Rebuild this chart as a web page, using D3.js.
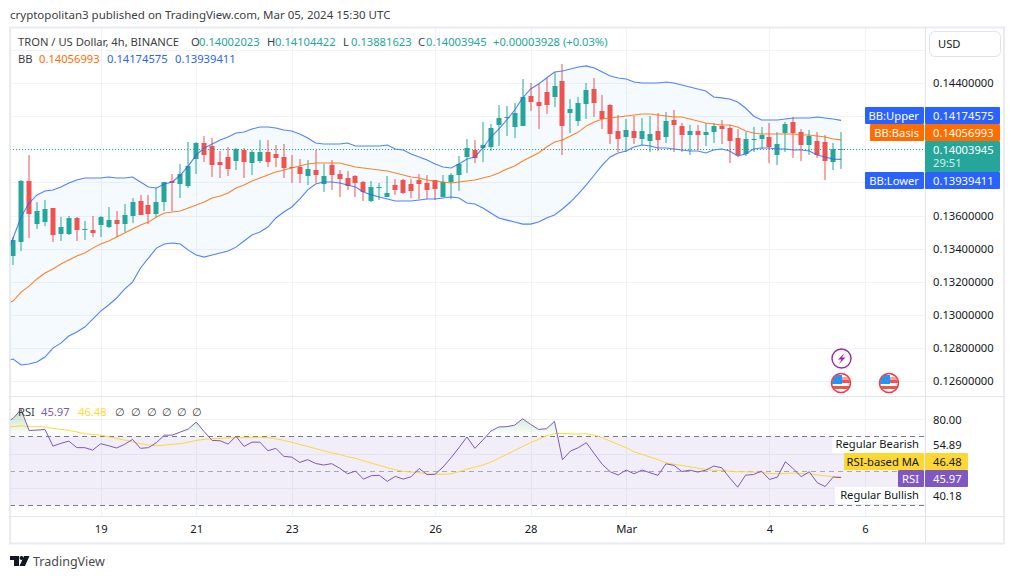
<!DOCTYPE html>
<html><head><meta charset="utf-8">
<script src="https://cdn.jsdelivr.net/npm/d3@7"></script>
<style>
html,body{margin:0;padding:0;background:#fff}
svg{display:block}
text{font-family:"Noto Sans",sans-serif;font-size:11.2px;fill:#131722}
</style></head><body>
<svg id="c" width="1015" height="579"></svg>
<script>
const opens=[0.13356,0.13441,0.13809,0.13549,0.13561,0.13646,0.13489,0.13489,0.13586,0.13513,0.13513,0.13543,0.13531,0.13573,0.13549,0.13598,0.13688,0.13664,0.13610,0.13682,0.13809,0.13791,0.13779,0.13941,0.14038,0.14020,0.13923,0.13954,0.13929,0.13996,0.13917,0.13929,0.13984,0.13972,0.13954,0.13893,0.13893,0.13839,0.13875,0.13791,0.13905,0.13851,0.13827,0.13839,0.13803,0.13688,0.13767,0.13712,0.13785,0.13815,0.13791,0.13815,0.13797,0.13815,0.13712,0.13803,0.13845,0.13954,0.13996,0.14008,0.14014,0.14147,0.14189,0.14135,0.14141,0.14322,0.14285,0.14346,0.14316,0.14412,0.14219,0.14171,0.14273,0.14364,0.14231,0.14267,0.14110,0.14074,0.14110,0.14062,0.14050,0.14110,0.14074,0.14177,0.14141,0.14086,0.14110,0.14086,0.14104,0.14141,0.14129,0.14068,0.13972,0.14056,0.14062,0.14074,0.13966,0.14098,0.14165,0.14104,0.14026,0.14050,0.14044,0.13923,0.14002023];
const highs=[0.13471,0.13815,0.13966,0.13682,0.13694,0.13646,0.13592,0.13598,0.13592,0.13567,0.13598,0.13598,0.13652,0.13628,0.13670,0.13706,0.13725,0.13725,0.13767,0.13803,0.13851,0.13911,0.14044,0.14044,0.14080,0.14068,0.13990,0.14014,0.14008,0.14008,0.13996,0.14056,0.14056,0.14026,0.14032,0.13966,0.13941,0.13935,0.13996,0.13911,0.13935,0.13875,0.13869,0.13845,0.13809,0.13809,0.13797,0.13839,0.13821,0.13821,0.13821,0.13851,0.13845,0.13815,0.13845,0.13857,0.13960,0.14062,0.14056,0.14165,0.14153,0.14267,0.14261,0.14279,0.14424,0.14400,0.14394,0.14430,0.14466,0.14515,0.14303,0.14316,0.14400,0.14430,0.14328,0.14273,0.14207,0.14183,0.14201,0.14189,0.14201,0.14219,0.14225,0.14237,0.14159,0.14147,0.14147,0.14159,0.14159,0.14177,0.14147,0.14122,0.14104,0.14135,0.14135,0.14159,0.14104,0.14165,0.14195,0.14122,0.14116,0.14104,0.14086,0.14038,0.14104422];
const lows=[0.13302,0.13386,0.13465,0.13519,0.13537,0.13441,0.13447,0.13483,0.13447,0.13453,0.13471,0.13471,0.13525,0.13471,0.13501,0.13555,0.13604,0.13549,0.13592,0.13628,0.13628,0.13706,0.13767,0.13851,0.13923,0.13833,0.13827,0.13839,0.13875,0.13827,0.13845,0.13917,0.13893,0.13893,0.13827,0.13797,0.13797,0.13785,0.13797,0.13743,0.13755,0.13712,0.13755,0.13712,0.13688,0.13682,0.13694,0.13712,0.13725,0.13731,0.13706,0.13700,0.13700,0.13694,0.13712,0.13700,0.13749,0.13857,0.13917,0.13923,0.13990,0.14020,0.14080,0.14068,0.14141,0.14231,0.14122,0.14213,0.14255,0.13966,0.14098,0.14141,0.14183,0.14195,0.14122,0.14032,0.13984,0.13984,0.14032,0.14026,0.13984,0.13990,0.14038,0.13984,0.13984,0.13966,0.13996,0.14020,0.14038,0.14032,0.13917,0.13954,0.13960,0.13984,0.14002,0.13917,0.13905,0.13984,0.13948,0.13929,0.13966,0.13948,0.13815,0.13875,0.13881623];
const closes=[0.13453,0.13809,0.13610,0.13628,0.13640,0.13483,0.13531,0.13586,0.13513,0.13519,0.13495,0.13592,0.13573,0.13549,0.13604,0.13682,0.13604,0.13610,0.13682,0.13803,0.13797,0.13851,0.13899,0.14038,0.13966,0.13905,0.13905,0.13881,0.14002,0.13923,0.13984,0.13984,0.13923,0.13948,0.13887,0.13887,0.13851,0.13881,0.13845,0.13839,0.13845,0.13821,0.13779,0.13797,0.13743,0.13773,0.13773,0.13737,0.13755,0.13737,0.13749,0.13791,0.13755,0.13761,0.13803,0.13845,0.13911,0.14008,0.13948,0.14026,0.14129,0.14189,0.14195,0.14219,0.14316,0.14285,0.14261,0.14267,0.14382,0.14141,0.14243,0.14279,0.14358,0.14279,0.14183,0.14092,0.14062,0.14116,0.14068,0.14110,0.14092,0.14056,0.14171,0.14147,0.14086,0.14110,0.14086,0.14104,0.14141,0.14122,0.14050,0.13966,0.14062,0.14062,0.14086,0.14014,0.14032,0.14153,0.14098,0.14026,0.14080,0.13966,0.13929,0.14002,0.14003945];
// indicator series start one 4h bar before the first visible candle
const bbUpper=[0.13350,0.13465,0.13592,0.13676,0.13725,0.13749,0.13755,0.13773,0.13797,0.13815,0.13827,0.13827,0.13827,0.13833,0.13827,0.13827,0.13833,0.13803,0.13773,0.13767,0.13791,0.13803,0.13845,0.13899,0.13966,0.14008,0.14032,0.14056,0.14074,0.14098,0.14104,0.14122,0.14135,0.14135,0.14129,0.14116,0.14110,0.14092,0.14068,0.14038,0.14032,0.14032,0.14032,0.14038,0.14020,0.14020,0.14020,0.14020,0.14026,0.14002,0.13996,0.13972,0.13954,0.13935,0.13911,0.13893,0.13887,0.13911,0.13941,0.13954,0.14008,0.14074,0.14122,0.14177,0.14237,0.14310,0.14364,0.14394,0.14430,0.14466,0.14472,0.14484,0.14497,0.14503,0.14490,0.14466,0.14442,0.14430,0.14424,0.14406,0.14400,0.14400,0.14400,0.14406,0.14400,0.14388,0.14376,0.14364,0.14352,0.14316,0.14310,0.14303,0.14285,0.14249,0.14201,0.14177,0.14177,0.14177,0.14183,0.14189,0.14189,0.14189,0.14195,0.14189,0.14183,0.14174575];
const bbBasis=[0.13067,0.13085,0.13139,0.13175,0.13218,0.13254,0.13278,0.13308,0.13332,0.13356,0.13374,0.13404,0.13429,0.13447,0.13471,0.13495,0.13519,0.13543,0.13561,0.13592,0.13616,0.13622,0.13628,0.13646,0.13664,0.13682,0.13706,0.13718,0.13737,0.13767,0.13785,0.13809,0.13827,0.13845,0.13863,0.13875,0.13887,0.13899,0.13911,0.13917,0.13917,0.13917,0.13917,0.13905,0.13893,0.13887,0.13881,0.13875,0.13869,0.13857,0.13845,0.13833,0.13827,0.13815,0.13809,0.13803,0.13797,0.13803,0.13809,0.13815,0.13827,0.13839,0.13857,0.13881,0.13899,0.13929,0.13954,0.13978,0.14014,0.14044,0.14056,0.14080,0.14104,0.14141,0.14165,0.14183,0.14189,0.14195,0.14201,0.14207,0.14213,0.14213,0.14207,0.14201,0.14195,0.14195,0.14183,0.14171,0.14159,0.14153,0.14147,0.14147,0.14135,0.14110,0.14098,0.14092,0.14092,0.14092,0.14092,0.14092,0.14086,0.14086,0.14080,0.14074,0.14062,0.14056993];
const bbLower=[0.12723,0.12735,0.12699,0.12705,0.12717,0.12747,0.12801,0.12831,0.12874,0.12898,0.12928,0.12976,0.13024,0.13061,0.13103,0.13157,0.13199,0.13284,0.13344,0.13404,0.13429,0.13435,0.13429,0.13392,0.13362,0.13350,0.13362,0.13374,0.13386,0.13410,0.13447,0.13483,0.13501,0.13531,0.13586,0.13622,0.13652,0.13700,0.13755,0.13791,0.13803,0.13803,0.13797,0.13785,0.13773,0.13743,0.13725,0.13712,0.13700,0.13688,0.13688,0.13688,0.13694,0.13700,0.13700,0.13706,0.13712,0.13706,0.13676,0.13670,0.13646,0.13616,0.13586,0.13573,0.13561,0.13549,0.13549,0.13561,0.13586,0.13604,0.13640,0.13682,0.13731,0.13785,0.13845,0.13905,0.13954,0.13978,0.13990,0.14014,0.14026,0.14020,0.14008,0.14008,0.14002,0.13996,0.13990,0.13990,0.13978,0.13996,0.14002,0.13990,0.13960,0.13972,0.14002,0.14008,0.14008,0.14002,0.14002,0.13996,0.13996,0.13990,0.13966,0.13954,0.13941,0.13939411];
const rsi=[77.9,80.4,85.6,73.4,73.6,74,64.3,65.9,67.2,63.4,63.4,62,65.7,64.5,63.2,65.3,68.2,63,63.4,66.3,70.7,70.7,72.5,74.2,78.3,72.7,67.6,67.4,65.5,70,64.1,66.6,66.6,61.6,63,58.3,57.9,54.8,56.4,54.2,53.3,54.1,51.5,48.2,49.8,45.1,47.1,47.3,43.8,46.7,45.1,46.5,51.3,47.7,47.9,52.1,57.5,63.4,69.6,63,67.8,73,75.4,75.6,76.5,80.2,76.9,74,74.4,78.7,56.4,61.4,63.4,66.3,59.9,53.7,49.4,47.5,50.4,48.2,50.4,48.8,47.3,54,53.1,49.5,50.3,49.2,50.3,52.7,51.7,45.9,40.4,47.4,47.8,49.7,44.9,46.3,55.2,51.1,46.5,49.4,43,40.8,46.3,45.97];
const rsiMA=[75,75.6,76.1,75.6,75.6,75.4,74.6,74,73.4,72.5,71.5,71.1,70.7,69.7,68.8,67.8,66.8,65.7,64.9,64.5,64.9,65.3,65.7,66.6,67.6,68.2,68.6,68.8,69,69.2,69.2,69.4,69.4,69.2,68.6,67.6,66.5,65.3,64.1,62.8,61.6,60.4,59.5,58.1,57.2,55.8,54.4,53.1,51.7,50.6,49.6,49.2,48.8,48.2,47.9,47.9,48.2,49.4,50.9,52.1,53.3,55,57.2,59.5,61.8,64.1,66.3,68.2,70.3,71.5,71.7,71.5,71.3,71.5,70.7,69.2,67.2,65.3,63.4,61,59.5,57.9,56.4,54.6,53.7,53,52.3,51.5,50.7,50.3,50.1,49.7,49.4,49.4,49.2,49,48.4,48.2,48.4,48.6,48.4,48.2,47.6,47,46.6,46.48];
const priceGrid=[0.126,0.128,0.130,0.132,0.134,0.136,0.138,0.140,0.142,0.144,0.146];
const priceTicks=[0.126,0.128,0.130,0.132,0.134,0.136,0.144];
const rsiGrid=[80,60,40];
const rsiLevels=[70,50,30];
const timeTicks=[[2024,1,19,"19"],[2024,1,21,"21"],[2024,1,23,"23"],[2024,1,26,"26"],[2024,1,28,"28"],[2024,2,1,"Mar"],[2024,2,4,"4"],[2024,2,6,"6"]];
const FIRST_BAR=new Date(Date.UTC(2024,1,17,4));
const barTime=i=>d3.utcHour.offset(FIRST_BAR,4*i);

const C={teal:"#26a69a",red:"#ef5350",blue:"#2962ff",orange:"#ff6d00",purple:"#7e57c2",yellow:"#fdd835",grid:"#f0f3fa",axis:"#e0e3eb",txt:"#131722"};
const FS="11.2px";
const svg=d3.select("#c");
const defs=svg.append("defs");
const L=10,R=925,PT=28,PB=395,RT=397,RB=516;
const x=d3.scaleUtc().domain([new Date(Date.UTC(2024,1,19)),new Date(Date.UTC(2024,2,6))]).range([100.7,865]);
const y=d3.scaleLinear().domain([0.126,0.144]).range([381.4,83]);
const yr=d3.scaleLinear().domain([30,70]).range([505.1,436.3]);

defs.append("clipPath").attr("id","cp").append("rect").attr("x",L).attr("y",PT).attr("width",R-L).attr("height",PB-PT);
defs.append("clipPath").attr("id","cr").append("rect").attr("x",L).attr("y",RT).attr("width",R-L).attr("height",RB-RT);
defs.append("clipPath").attr("id","ob").append("rect").attr("x",L).attr("y",RT).attr("width",R-L).attr("height",yr(70)-RT);
const gr=defs.append("linearGradient").attr("id","obg").attr("gradientUnits","userSpaceOnUse").attr("x1",0).attr("x2",0).attr("y1",yr(90)).attr("y2",yr(70));
gr.append("stop").attr("offset",0).attr("stop-color","#4caf50").attr("stop-opacity",0.45);
gr.append("stop").attr("offset",1).attr("stop-color","#4caf50").attr("stop-opacity",0);

// text line (top)
svg.append("text").attr("x",10).attr("y",19).style("fill","#3c4043").style("font-size","11.5px").text("cryptopolitan3 published on TradingView.com, Mar 05, 2024 15:30 UTC");

// grid
const g=svg.append("g");
g.selectAll("line.h").data(priceGrid).join("line").attr("x1",L).attr("x2",R).attr("y1",d=>Math.round(y(d))+.5).attr("y2",d=>Math.round(y(d))+.5).attr("stroke",C.grid);
g.selectAll("line.r").data(rsiGrid).join("line").attr("x1",L).attr("x2",R).attr("y1",d=>Math.round(yr(d))+.5).attr("y2",d=>Math.round(yr(d))+.5).attr("stroke",C.grid);
const tickDates=timeTicks.map(t=>new Date(Date.UTC(t[0],t[1],t[2])));
g.selectAll("line.v").data(tickDates).join("line").attr("x1",d=>Math.round(x(d))+.5).attr("x2",d=>Math.round(x(d))+.5).attr("y1",PT).attr("y2",RB).attr("stroke",C.grid);

// price pane
const pane=svg.append("g").attr("clip-path","url(#cp)");
const xi=(_,i)=>x(barTime(i-1));
pane.append("path").datum(bbUpper).attr("fill","#2196f3").attr("fill-opacity",0.05)
 .attr("d",d3.area().x(xi).y0((_,i)=>y(bbLower[i])).y1(d=>y(d)));
const idx=d3.range(opens.length);
const bars=pane.append("g");
const up=i=>closes[i]>=opens[i];
bars.selectAll("rect.w").data(idx).join("rect").attr("x",i=>Math.round(x(barTime(i)))-.5).attr("width",1)
 .attr("y",i=>y(highs[i])).attr("height",i=>y(lows[i])-y(highs[i])).attr("fill",i=>up(i)?C.teal:C.red);
bars.selectAll("rect.b").data(idx).join("rect").attr("x",i=>Math.round(x(barTime(i)))-2.5).attr("width",5)
 .attr("y",i=>Math.round(y(Math.max(opens[i],closes[i])))).attr("height",i=>Math.max(1,Math.round(y(Math.min(opens[i],closes[i])))-Math.round(y(Math.max(opens[i],closes[i]))))).attr("fill",i=>up(i)?C.teal:C.red);
const ln=d3.line().x(xi).y(d=>y(d));
pane.append("path").datum(bbUpper).attr("fill","none").attr("stroke",C.blue).attr("stroke-width",1.1).attr("stroke-opacity",.8).attr("d",ln);
pane.append("path").datum(bbLower).attr("fill","none").attr("stroke",C.blue).attr("stroke-width",1.1).attr("stroke-opacity",.8).attr("d",ln);
pane.append("path").datum(bbBasis).attr("fill","none").attr("stroke",C.orange).attr("stroke-width",1.1).attr("stroke-opacity",.85).attr("d",ln);
const lastClose=closes[closes.length-1];
svg.append("line").attr("x1",L).attr("x2",R).attr("y1",Math.round(y(lastClose))+.5).attr("y2",Math.round(y(lastClose))+.5).attr("stroke",C.teal).attr("stroke-dasharray","1 2");

// RSI pane
const rp=svg.append("g").attr("clip-path","url(#cr)");
rp.append("rect").attr("x",L).attr("width",R-L).attr("y",yr(70)).attr("height",yr(30)-yr(70)).attr("fill",C.purple).attr("fill-opacity",.1);
rp.selectAll("line.l").data(rsiLevels).join("line").attr("x1",L).attr("x2",R).attr("y1",d=>Math.round(yr(d))+.5).attr("y2",d=>Math.round(yr(d))+.5)
 .attr("stroke","#787b86").attr("stroke-opacity",d=>d==50?.6:1).attr("stroke-dasharray","5 4");
rp.append("g").attr("clip-path","url(#ob)").append("path").datum(rsi).attr("fill","url(#obg)")
 .attr("d",d3.area().x(xi).y0(yr(70)).y1(d=>yr(d)));
const lr=d3.line().x(xi).y(d=>yr(d));
rp.append("path").datum(rsiMA).attr("fill","none").attr("stroke",C.yellow).attr("stroke-width",1).attr("d",lr);
rp.append("path").datum(rsi).attr("fill","none").attr("stroke",C.purple).attr("stroke-width",1).attr("d",lr);

// frame + separators
svg.append("rect").attr("x",10).attr("y",27.5).attr("width",994).attr("height",516).attr("fill","none").attr("stroke",C.axis).attr("stroke-width",2).attr("stroke-opacity",.7);
svg.append("line").attr("x1",L).attr("x2",1003).attr("y1",396.5).attr("y2",396.5).attr("stroke",C.axis);
svg.append("line").attr("x1",L).attr("x2",1003).attr("y1",516.5).attr("y2",516.5).attr("stroke",C.axis);
svg.append("line").attr("x1",R+.5).attr("x2",R+.5).attr("y1",28).attr("y2",543).attr("stroke",C.axis);

// price axis
const fmt8=d3.format(".8f");
const yAxis=d3.axisRight(y).tickValues(priceTicks).tickFormat(fmt8).tickSize(0).tickPadding(8);
const ya=svg.append("g").attr("transform",`translate(${R},0)`).call(yAxis);
ya.select(".domain").remove();
ya.selectAll("text").style("font-family",'"Noto Sans",sans-serif').style("font-size",FS).style("fill",C.txt);
// time axis
const xAxis=d3.axisBottom(x).tickValues(tickDates).tickFormat((d,i)=>timeTicks[i][3]).tickSize(0).tickPadding(9);
const xa=svg.append("g").attr("transform",`translate(0,${RB})`).call(xAxis);
xa.select(".domain").remove();
xa.selectAll("text").style("font-family",'"Noto Sans",sans-serif').style("font-size",FS).style("fill",C.txt);

// legends
function t(xp,yp,s,fill,extra){const e=svg.append("text").attr("x",xp).attr("y",yp).style("fill",fill||C.txt).text(s);if(extra)extra(e);return e;}
const lg="#3c4043";
t(18,46,"TRON / US Dollar, 4h, BINANCE",lg);
[[191,"O",opens],[267,"H",highs],[343,"L",lows],[418,"C",closes]].forEach(a=>{
  t(a[0],46,a[1],lg);
  t(a[0]+8,46,fmt8(a[2][a[2].length-1]),C.teal);
});
t(493,46,"+0.00003928 (+0.03%)",C.teal);
t(18,63,"BB",lg);
t(39,63,"0.14056993",C.orange);
t(107,63,"0.14174575",C.blue);
t(175,63,"0.13939411",C.blue);
t(18,416,"RSI",lg);
t(41,416,"45.97",C.purple);
t(78,416,"46.48",C.yellow);
[115,131,147,162,177,192].forEach(v=>t(v,416,"∅",lg));

// price labels
function lab(x0,w,y0,h,fill,rx){return svg.append("rect").attr("x",x0).attr("y",y0).attr("width",w).attr("height",h).attr("fill",fill).attr("rx",rx||0);}
function priceLabel(name,val,col,y0,h,nameW){
  lab(925-nameW,nameW-1,y0,h,col,1);
  lab(925,75,y0,h,col,1);
  t(919,y0+h/2+4,name,"#fff",e=>e.attr("text-anchor","end"));
  t(933,y0+h/2+4,val,"#fff");
}
lab(925,75,141,31,C.teal,1);
t(933,153.7,"0.14003945","#fff");
t(933,167.4,"29:51","#d4eeeb");
priceLabel("BB:Upper","0.14174575",C.blue,107,17,60);
priceLabel("BB:Basis","0.14056993",C.orange,124,17,55);
priceLabel("BB:Lower","0.13939411",C.blue,172,17,60);

// RSI labels
t(933,424,"80.00");
lab(832,92.5,437,16,"#fff");
t(919,448,"Regular Bearish",C.txt,e=>e.attr("text-anchor","end"));
t(933,449,"54.89");
lab(844,80,453,17,C.yellow,1); lab(925,43,453,17,C.yellow,1);
t(919,466,"RSI-based MA",C.txt,e=>e.attr("text-anchor","end"));
t(933,466,"46.48");
lab(898,26,470,17,C.purple,1); lab(925,43,470,17,C.purple,1);
t(919,483,"RSI","#fff",e=>e.attr("text-anchor","end"));
t(933,483,"45.97","#fff");
lab(835,89.5,487,17,"#fff");
t(919,499,"Regular Bullish",C.txt,e=>e.attr("text-anchor","end"));
t(933,500,"40.18");

// USD button
svg.append("rect").attr("x",929.5).attr("y",31.5).attr("width",71).attr("height",25).attr("rx",5).attr("fill","#fff").attr("stroke",C.axis);
t(938,48,"USD");

// event icons
function flag(cx,cy){
  const id="f"+cx; defs.append("clipPath").attr("id",id).append("circle").attr("cx",cx).attr("cy",cy).attr("r",9);
  const f=svg.append("g").attr("clip-path",`url(#${id})`);
  f.append("rect").attr("x",cx-10).attr("y",cy-10).attr("width",20).attr("height",20).attr("fill","#fff");
  f.append("rect").attr("x",cx-10).attr("y",cy-6).attr("width",20).attr("height",3).attr("fill","#f7a1a6");
  f.append("rect").attr("x",cx-1).attr("y",cy-3).attr("width",11).attr("height",3).attr("fill","#ef5350");
  f.append("rect").attr("x",cx-10).attr("y",cy+3).attr("width",20).attr("height",3).attr("fill","#ef5350");
  f.append("rect").attr("x",cx-10).attr("y",cy-8).attr("width",11).attr("height",9).attr("fill","#2196f3");
  svg.append("circle").attr("cx",cx).attr("cy",cy).attr("r",9.5).attr("fill","none").attr("stroke","#f23645").attr("stroke-width",1.6);
}
flag(841,383); flag(889,383);
svg.append("circle").attr("cx",841.5).attr("cy",358.5).attr("r",9.5).attr("fill","#fff").attr("stroke","#9c27b0").attr("stroke-width",1.4);
svg.append("path").attr("d","M844.5 353 L838 359.5 H841.5 L839 364 L845.5 357.5 H842 Z").attr("fill","#9c27b0");

// TradingView logo
svg.append("path").attr("d","M10 556 H19 V566 H14 V560 H10 Z").attr("fill","#131722");
svg.append("circle").attr("cx",21.5).attr("cy",558).attr("r",2).attr("fill","#131722");
svg.append("path").attr("d","M24 556 H29.5 L25 566 H19.5 Z").attr("fill","#131722");
t(33,566,"TradingView","#4a4a4a",e=>e.style("font-size","12.5px"));
</script>
</body></html>
